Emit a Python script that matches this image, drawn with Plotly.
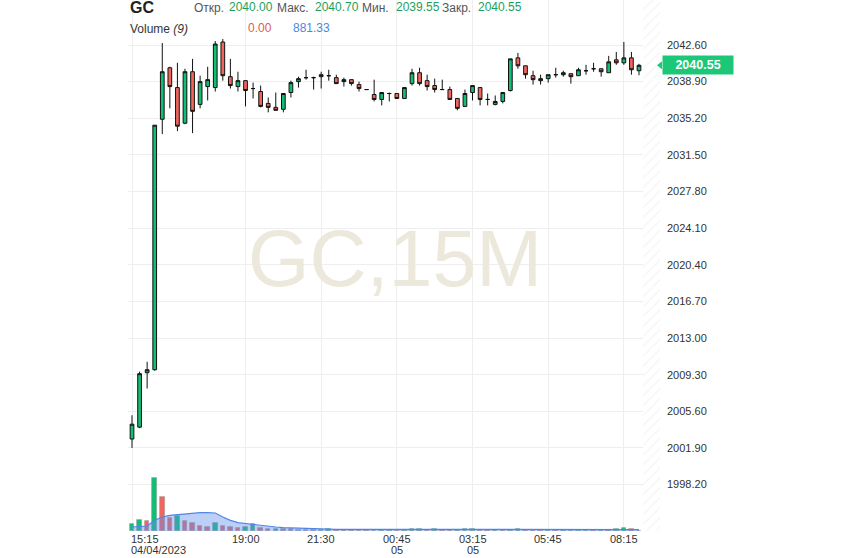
import plotly.graph_objects as go

# ---------------- data ----------------
symbol = "GC"
watermark = "GC,15M"

opens = [2002.8, 2004.0, 2009.5, 2009.8, 2035.1, 2040.3, 2038.3, 2034.7, 2039.9, 2036.6,
         2038.4, 2038.3, 2042.9, 2039.4, 2038.4, 2039.0, 2038.2, 2037.9, 2036.7, 2036.3,
         2036.1, 2037.8, 2038.9, 2039.3, 2039.3, 2039.4, 2039.5, 2039.3, 2038.9, 2039.1,
         2038.6, 2038.1, 2037.6, 2037.1, 2037.7, 2037.7, 2037.2, 2038.7, 2039.8, 2039.0,
         2038.5, 2038.1, 2038.1, 2037.2, 2036.4, 2037.8, 2038.3, 2037.1, 2036.6, 2036.9,
         2038.0, 2041.3, 2040.5, 2039.5, 2039.0, 2039.2, 2039.6, 2039.6, 2039.7, 2039.5,
         2040.0, 2040.2, 2040.2, 2039.8, 2041.1, 2040.8, 2041.3, 2040.00]
highs = [2005.2, 2009.6, 2010.6, 2034.5, 2042.8, 2040.4, 2040.8, 2040.2, 2041.2, 2039.5,
         2040.4, 2043.0, 2043.2, 2041.2, 2039.9, 2039.0, 2038.8, 2038.5, 2037.3, 2037.8,
         2037.7, 2039.0, 2039.4, 2040.1, 2039.4, 2039.9, 2040.1, 2039.6, 2039.3, 2039.1,
         2038.9, 2038.1, 2039.1, 2037.8, 2037.8, 2037.7, 2038.3, 2040.2, 2040.3, 2039.6,
         2039.2, 2039.1, 2038.4, 2037.2, 2038.1, 2038.5, 2038.3, 2037.7, 2037.5, 2037.8,
         2041.2, 2041.8, 2040.5, 2040.0, 2039.6, 2039.6, 2040.3, 2040.0, 2039.7, 2040.3,
         2040.6, 2040.8, 2040.2, 2041.5, 2041.9, 2042.9, 2041.9, 2040.70]
lows = [2001.9, 2003.9, 2007.9, 2009.7, 2033.6, 2036.2, 2033.9, 2034.6, 2033.7, 2036.2,
        2037.0, 2037.9, 2039.0, 2038.2, 2037.9, 2036.4, 2037.2, 2036.3, 2035.8, 2036.0,
        2035.8, 2037.3, 2038.3, 2039.1, 2038.1, 2038.2, 2039.0, 2038.7, 2038.4, 2038.5,
        2037.9, 2038.1, 2036.9, 2036.5, 2036.9, 2037.2, 2037.2, 2038.5, 2038.5, 2038.0,
        2037.8, 2038.1, 2037.1, 2036.0, 2036.4, 2037.0, 2036.5, 2036.5, 2036.5, 2036.7,
        2037.9, 2040.2, 2039.2, 2038.6, 2038.6, 2038.8, 2039.3, 2039.4, 2038.7, 2039.5,
        2039.6, 2039.9, 2039.4, 2039.8, 2040.6, 2040.6, 2039.6, 2039.55]
closes = [2004.3, 2009.4, 2009.8, 2034.5, 2039.9, 2038.4, 2034.4, 2039.9, 2035.9, 2038.9,
          2039.1, 2042.7, 2039.5, 2038.5, 2039.0, 2038.0, 2038.2, 2036.4, 2036.3, 2036.0,
          2037.7, 2038.8, 2039.2, 2039.3, 2039.3, 2039.6, 2039.5, 2038.7, 2039.1, 2038.7,
          2038.2, 2038.1, 2037.1, 2037.8, 2037.7, 2037.2, 2038.3, 2039.8, 2038.7, 2038.4,
          2038.1, 2038.1, 2037.1, 2036.2, 2037.7, 2038.5, 2037.1, 2037.1, 2036.9, 2037.8,
          2041.2, 2040.5, 2039.6, 2039.1, 2039.2, 2039.6, 2039.6, 2039.8, 2039.4, 2040.1,
          2040.0, 2040.2, 2039.9, 2040.9, 2040.8, 2041.3, 2040.1, 2040.55]
volumes = [4000, 6400, 6000, 32000, 20400, 7800, 8800, 6000, 4800, 2800,
           2400, 4800, 2800, 2400, 2000, 2400, 4000, 1800, 1000, 1400,
           1000, 950, 900, 800, 700, 750, 1300, 800, 700, 650,
           600, 550, 300, 600, 650, 500, 550, 1100, 1200, 900,
           1000, 700, 600, 900, 1100, 1200, 800, 700, 900, 700,
           800, 1000, 900, 800, 700, 750, 600, 650, 700, 700,
           800, 600, 700, 650, 1300, 2000, 1180, 0]
vol_ma = [2400, 2800, 3000, 6400, 8400, 9400, 9800, 10400, 10800, 11000,
          11000, 10800, 8400, 6400, 5000, 4400, 4000, 3400, 2800, 2400,
          2000, 1800, 1600, 1400, 1200, 1050, 1050, 1000, 1000, 1000,
          950, 900, 850, 800, 780, 760, 760, 800, 850, 880,
          900, 900, 880, 880, 900, 920, 920, 900, 880, 860,
          850, 850, 840, 830, 820, 800, 780, 760, 740, 740,
          740, 740, 720, 720, 760, 860, 900, 881]

tick_idx = [0, 15, 25, 35, 45, 55, 65]
tick_time = ["15:15", "19:00", "21:30", "00:45", "03:15", "05:45", "08:15"]
tick_date = ["04/04/2023", "", "", "05", "05", "", ""]

price_ticks = [1998.20, 2001.90, 2005.60, 2009.30, 2013.00, 2016.70, 2020.40,
               2024.10, 2027.80, 2031.50, 2035.20, 2038.90, 2042.60]

header_labels = ["Откр.", "Макс.", "Мин.", "Закр."]
volume_label = "Volume <i>(9)</i>"
volume_last = "0.00"
volume_ma_last = "881.33"

# ---------------- styling ----------------
GREEN = "#10bf74"
RED = "#f2655d"
TXT_GREEN = "#1c9f5c"
TAG_GREEN = "#1cc877"
FONT = "Liberation Sans, Arial, sans-serif"

W, H = 843, 558
L_PX, R_PX, T_PX, B_PX = 128, 660, 0, 531

n = len(closes)
xs = list(range(n))

vol_colors = []
for i, v in enumerate(volumes):
    if i == 0 or v >= volumes[i - 1]:
        vol_colors.append(GREEN)
    else:
        vol_colors.append(RED)

fig = go.Figure()

# volume bars
fig.add_trace(go.Bar(
    x=xs, y=volumes, width=0.6, yaxis="y2",
    marker=dict(color=vol_colors, line=dict(color="rgba(150,150,150,0.7)", width=0.8)),
    hoverinfo="skip", showlegend=False))

# volume moving average area
fig.add_trace(go.Scatter(
    x=xs, y=vol_ma, yaxis="y2", mode="lines", fill="tozeroy",
    line=dict(color="#4f86e6", width=1.2),
    fillcolor="rgba(95,140,235,0.42)",
    hoverinfo="skip", showlegend=False))

# candles
fig.add_trace(go.Candlestick(
    x=xs, open=opens, high=highs, low=lows, close=closes,
    increasing=dict(fillcolor=GREEN, line=dict(color="#111111", width=1)),
    decreasing=dict(fillcolor=RED, line=dict(color="#111111", width=1)),
    whiskerwidth=0, hoverinfo="skip", showlegend=False))

# hatched "future" zone on the right edge
x_last = n - 1
x_right = x_last + (R_PX - 639) / 7.565
fig.add_trace(go.Bar(
    x=[(x_last + 0.55 + x_right) / 2], y=[1], base=[0],
    width=[x_right - (x_last + 0.55)], yaxis="y3",
    marker=dict(color="white", line=dict(width=0),
                pattern=dict(shape="/", fgcolor="#e6e6e6", bgcolor="white", size=7, solidity=0.15)),
    hoverinfo="skip", showlegend=False))

# price scale: 9.9 px per unit, 2042.60 gridline at y=45
ppu = 9.9
y_top = 2042.6 + (45 - T_PX) / ppu
y_bot = 2042.6 - (B_PX - 45) / ppu

vol_top = max(volumes) * (B_PX - T_PX) / 53.4


def px_x(p):
    return (p - L_PX) / (R_PX - L_PX)


def px_y(p):
    return 1 - (p - T_PX) / (B_PX - T_PX)


last = closes[-1]
fig.update_layout(
    width=W, height=H,
    margin=dict(l=L_PX, r=W - R_PX, t=T_PX, b=H - B_PX, autoexpand=False),
    paper_bgcolor="white", plot_bgcolor="white",
    font=dict(family=FONT, size=11, color="#333333"),
    bargap=0, barmode="overlay", boxgap=0.3,
    showlegend=False,
    xaxis=dict(range=[-0.53, x_right], tickvals=tick_idx, showticklabels=False,
               showgrid=True, gridcolor="#eeeeee", gridwidth=1, zeroline=False,
               rangeslider=dict(visible=False), fixedrange=True, showline=False, ticks=""),
    yaxis=dict(range=[y_bot, y_top], side="right", tickvals=price_ticks,
               ticktext=[f"{v:.2f}" for v in price_ticks],
               showgrid=True, gridcolor="#eeeeee", gridwidth=1, zeroline=False,
               ticks="", ticklabelstandoff=6, tickfont=dict(size=11, color="#333333"),
               showline=False, automargin=False),
    yaxis2=dict(range=[0, vol_top], overlaying="y", visible=False, showgrid=False),
    yaxis3=dict(range=[0, 1], overlaying="y", visible=False, showgrid=False),
    shapes=[dict(type="path", xref="paper", yref="y", layer="above",
                 path=(f"M {px_x(657)},{last} L {px_x(662)},{last + 0.4} "
                       f"L {px_x(662)},{last - 0.4} Z"),
                 fillcolor=TAG_GREEN, line=dict(width=0))],
)

ann = []
# watermark
ann.append(dict(text=watermark, xref="paper", yref="paper",
                x=px_x(395), y=px_y(258),
                xanchor="center", yanchor="middle", showarrow=False,
                font=dict(size=79, color="#ece8dc", family=FONT)))

# x-axis labels (time row and date row)
for i, (idx, t, d) in enumerate(zip(tick_idx, tick_time, tick_date)):
    anchor = "left" if i == 0 else "center"
    xshift = -3 if i == 0 else 0
    ann.append(dict(text=t, xref="x", yref="paper", x=idx, y=0, xanchor=anchor,
                    yanchor="middle", yshift=-8, xshift=xshift, showarrow=False,
                    font=dict(size=11, color="#333333")))
    if d:
        ann.append(dict(text=d, xref="x", yref="paper", x=idx, y=0, xanchor=anchor,
                        yanchor="middle", yshift=-18.5, xshift=xshift, showarrow=False,
                        font=dict(size=11, color="#333333")))

# header row 1
ann.append(dict(text=f"<b>{symbol}</b>", xref="paper", yref="paper", x=px_x(128), y=px_y(7),
                xanchor="left", yanchor="middle", showarrow=False,
                font=dict(size=16, color="#222222")))
values = [opens[-1], highs[-1], lows[-1], closes[-1]]
label_px = [192, 275, 360, 440]
value_px = [227, 313, 394, 476]
for lab, lx, val, vx in zip(header_labels, label_px, values, value_px):
    ann.append(dict(text=lab, xref="paper", yref="paper", x=px_x(lx), y=px_y(8),
                    xanchor="left", yanchor="middle", showarrow=False,
                    font=dict(size=12, color="#555555")))
    ann.append(dict(text=f"{val:.2f}", xref="paper", yref="paper", x=px_x(vx), y=px_y(7),
                    xanchor="left", yanchor="middle", showarrow=False,
                    font=dict(size=12, color=TXT_GREEN)))

# header row 2
ann.append(dict(text=volume_label, xref="paper", yref="paper", x=px_x(128), y=px_y(29),
                xanchor="left", yanchor="middle", showarrow=False,
                font=dict(size=12, color="#333333")))
ann.append(dict(text=volume_last, xref="paper", yref="paper", x=px_x(246), y=px_y(28),
                xanchor="left", yanchor="middle", showarrow=False,
                font=dict(size=12, color="#e05a50")))
ann.append(dict(text=volume_ma_last, xref="paper", yref="paper", x=px_x(291), y=px_y(28),
                xanchor="left", yanchor="middle", showarrow=False,
                font=dict(size=12, color="#4d87e0")))

# current price tag
ann.append(dict(text=f"<b>\u00a0\u00a0\u00a0{last:.2f}\u00a0\u00a0\u00a0</b>", xref="paper", yref="y",
                x=1, y=last, xanchor="left", yanchor="middle", xshift=1.5,
                showarrow=False, bgcolor=TAG_GREEN, borderpad=2,
                font=dict(size=12.5, color="white")))

fig.update_layout(annotations=ann)

fig.write_html("out.html", config={"displayModeBar": False},
               post_script="document.body.style.margin='0px';document.body.style.overflow='hidden';")
